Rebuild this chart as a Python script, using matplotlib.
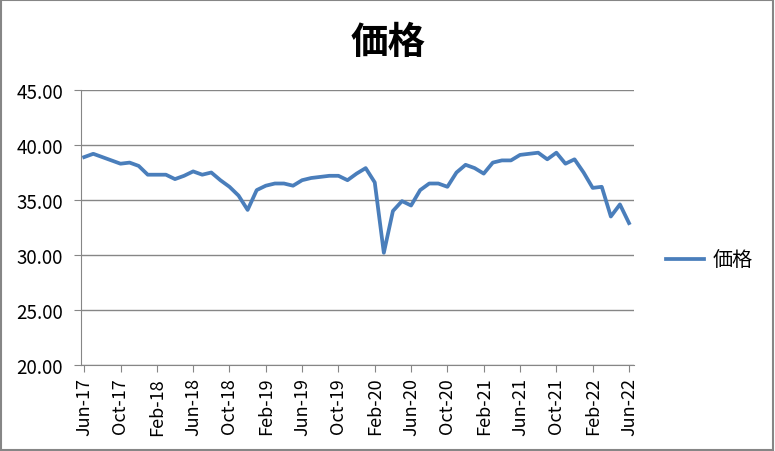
import matplotlib.pyplot as plt
from matplotlib.patches import Rectangle

plt.rcParams['font.family'] = ['Noto Sans CJK JP', 'DejaVu Sans']

# 月次データ Jun-17 .. Jun-22
months = ['Jun-17', 'Jul-17', 'Aug-17', 'Sep-17', 'Oct-17', 'Nov-17', 'Dec-17',
          'Jan-18', 'Feb-18', 'Mar-18', 'Apr-18', 'May-18', 'Jun-18', 'Jul-18',
          'Aug-18', 'Sep-18', 'Oct-18', 'Nov-18', 'Dec-18', 'Jan-19', 'Feb-19',
          'Mar-19', 'Apr-19', 'May-19', 'Jun-19', 'Jul-19', 'Aug-19', 'Sep-19',
          'Oct-19', 'Nov-19', 'Dec-19', 'Jan-20', 'Feb-20', 'Mar-20', 'Apr-20',
          'May-20', 'Jun-20', 'Jul-20', 'Aug-20', 'Sep-20', 'Oct-20', 'Nov-20',
          'Dec-20', 'Jan-21', 'Feb-21', 'Mar-21', 'Apr-21', 'May-21', 'Jun-21',
          'Jul-21', 'Aug-21', 'Sep-21', 'Oct-21', 'Nov-21', 'Dec-21', 'Jan-22',
          'Feb-22', 'Mar-22', 'Apr-22', 'May-22', 'Jun-22']
price = [38.9, 39.2, 38.9, 38.6, 38.3, 38.4, 38.1,
         37.3, 37.3, 37.3, 36.9, 37.2, 37.6, 37.3,
         37.5, 36.8, 36.2, 35.4, 34.1, 35.9, 36.3,
         36.5, 36.5, 36.3, 36.8, 37.0, 37.1, 37.2,
         37.2, 36.8, 37.4, 37.9, 36.6, 30.2, 34.0,
         34.9, 34.5, 35.9, 36.5, 36.5, 36.2, 37.5,
         38.2, 37.9, 37.4, 38.4, 38.6, 38.6, 39.1,
         39.2, 39.3, 38.7, 39.3, 38.3, 38.7, 37.5,
         36.1, 36.2, 33.5, 34.6, 32.9]
y_ticks = [20, 25, 30, 35, 40, 45]

fig = plt.figure(figsize=(7.75, 4.52), dpi=100)
ax = fig.add_axes([81 / 775, 1 - 366 / 452, (634 - 81) / 775, (366 - 91) / 452])

x = list(range(len(price)))
line, = ax.plot(x, price, color='#4a7ebb', linewidth=2.7, solid_joinstyle='round')

ax.set_xlim(-0.35, 60.55)
ax.set_ylim(20, 45)
ax.set_yticks(y_ticks)
ax.set_yticklabels([f'{v:.2f}' for v in y_ticks], fontsize=13.5)
ax.set_xticks(x[::4])
ax.set_xticklabels(months[::4], rotation=90, fontsize=13)
ax.grid(axis='y', color='#868686', linewidth=1)
ax.set_axisbelow(True)

for s in ['top', 'right']:
    ax.spines[s].set_visible(False)
for s in ['left', 'bottom']:
    ax.spines[s].set_color('#868686')
ax.tick_params(axis='both', colors='#868686', labelcolor='black',
               length=5, direction='out')
ax.tick_params(axis='y', pad=8)

fig.text(388 / 775, 1 - 42 / 452, '価格', ha='center', va='center',
         fontsize=27, fontweight='bold')

ax.legend(handles=[line], labels=['価格'], loc='center left',
          bbox_to_anchor=(1.025, 0.38), frameon=False, fontsize=14.5,
          handlelength=1.9, handletextpad=0.4)

fig.add_artist(Rectangle((0.001, 0.002), 0.997, 0.996, transform=fig.transFigure,
                         fill=False, edgecolor='#868686', linewidth=1.5))

fig.savefig('out.png', dpi=100)
